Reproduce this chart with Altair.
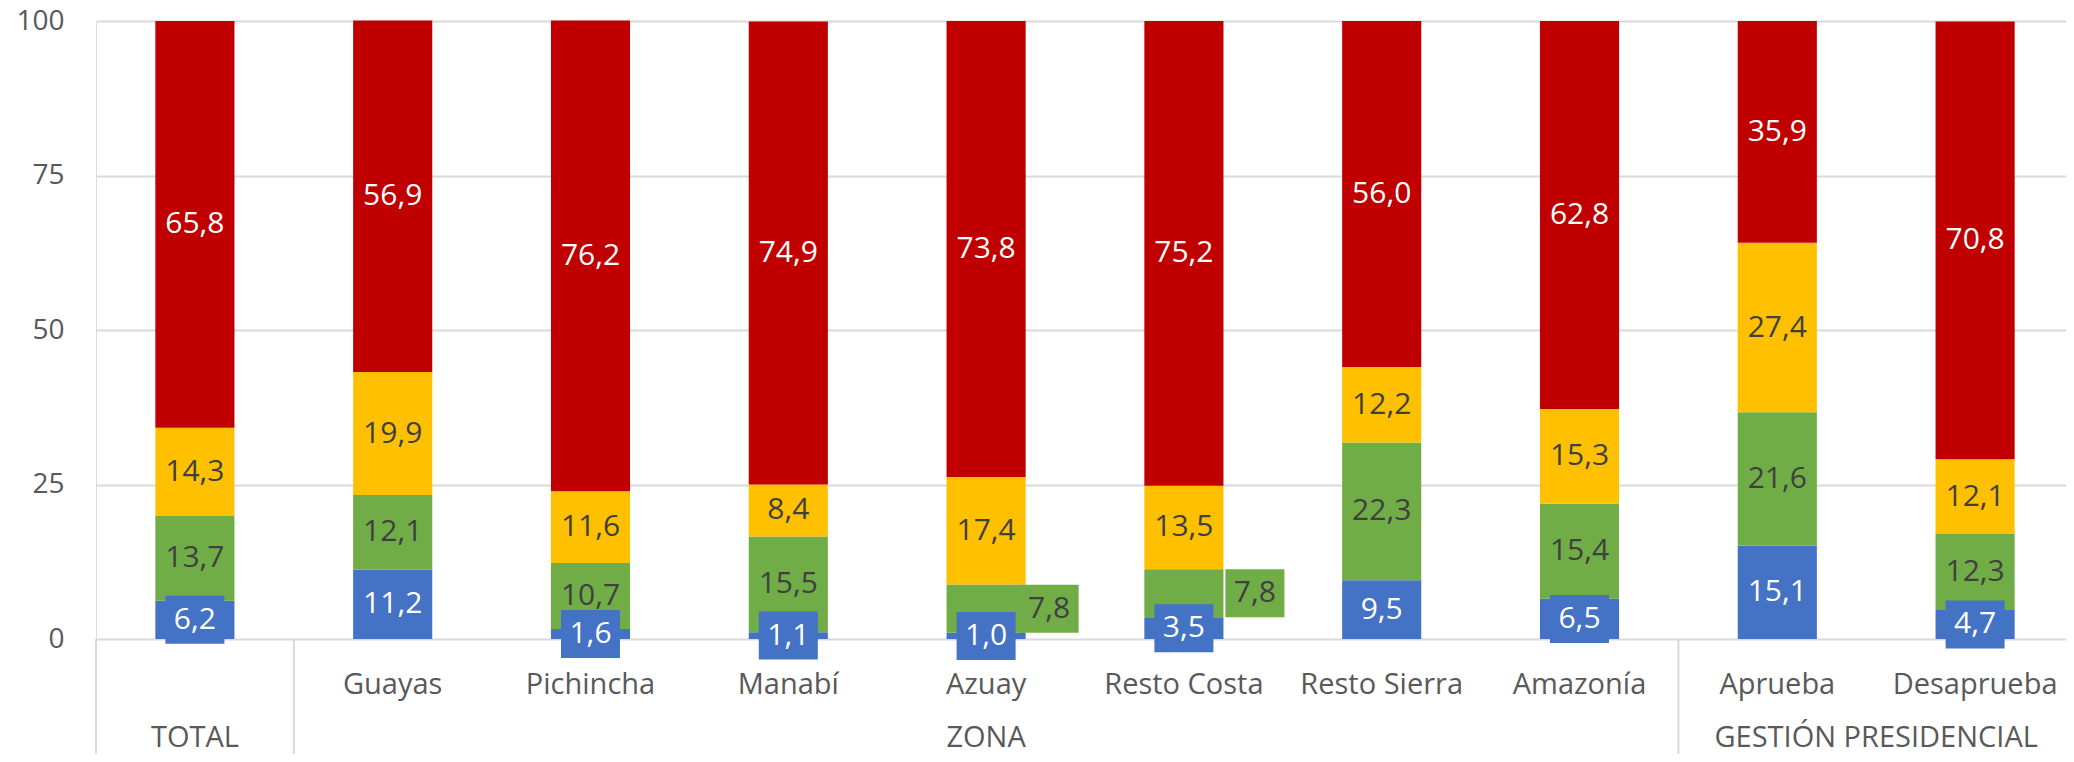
import altair as alt
import pandas as pd

# ---- data ----
categories = ["TOTAL", "Guayas", "Pichincha", "Manabí", "Azuay",
              "Resto Costa", "Resto Sierra", "Amazonía", "Aprueba", "Desaprueba"]
series = ["Muy buena", "Buena", "Regular", "Mala"]
muy_buena = [6.2, 11.2, 1.6, 1.1, 1.0, 3.5, 9.5, 6.5, 15.1, 4.7]
buena = [13.7, 12.1, 10.7, 15.5, 7.8, 7.8, 22.3, 15.4, 21.6, 12.3]
regular = [14.3, 19.9, 11.6, 8.4, 17.4, 13.5, 12.2, 15.3, 27.4, 12.1]
mala = [65.8, 56.9, 76.2, 74.9, 73.8, 75.2, 56.0, 62.8, 35.9, 70.8]
group_names = ["TOTAL", "ZONA", "GESTIÓN PRESIDENCIAL"]
group_first = ["TOTAL", "Guayas", "Aprueba"]
group_last = ["TOTAL", "Amazonía", "Desaprueba"]
y_ticks = [0, 25, 50, 75, 100]

# ---- styles ----
FONT = "Open Sans"
bar_colors = ["#4472C4", "#70AD47", "#FFC000", "#C00000"]
AXIS_TXT = "#595959"
DARK_TXT = "#404040"
GRID = "#D9D9D9"
W, H = 1970, 618
RANGE_W = 1978
TOP = 13
BOTTOM = 746 - TOP - H
BOX = "M-1,-0.8136H1V0.8136H-1Z"
BOX_SIZE = 59 ** 2
shifted = {"Azuay": 63, "Resto Costa": 71}  # label offsets (style)

# ---- table ----
rows = []
for i, c in enumerate(categories):
    vals = [muy_buena[i], buena[i], regular[i], mala[i]]
    start = 0.0
    for s, v in zip(series, vals):
        rows.append({"cat": c, "serie": s, "value": v, "start": start,
                     "end": start + v, "mid": start + v / 2,
                     "label": f"{v:.1f}".replace(".", ",")})
        start += v
df = pd.DataFrame(rows)

xscale = alt.Scale(domain=categories, range=[0, RANGE_W], paddingInner=0, paddingOuter=0)
yscale = alt.Scale(domain=[0, 100], nice=False)

x_axis = alt.Axis(title=None, labelAngle=0, labelFont=FONT, labelFontSize=29,
                  labelColor=AXIS_TXT, domain=False, ticks=False, grid=False,
                  labelPadding=54, labelBaseline="alphabetic", labelOverlap=False,
                  labelLimit=0, labelExpr="datum.label == 'TOTAL' ? '' : datum.label")
y_axis = alt.Axis(title=None, values=y_ticks, labelFont=FONT, labelFontSize=28,
                  labelColor=AXIS_TXT, domain=False, ticks=False, tickSize=0,
                  labelPadding=32, grid=True, gridColor=GRID, gridWidth=2)


def X(axis=None, **kw):
    return alt.X("cat:N", scale=xscale, sort=categories, axis=axis, **kw)


def Y(field):
    return alt.Y(field, scale=yscale, axis=y_axis)


base = alt.Chart(df)

bars = base.mark_bar(width={"band": 0.4}).encode(
    x=X(axis=x_axis),
    y=Y("start:Q"),
    y2="end:Q",
    color=alt.Color("serie:N", scale=alt.Scale(domain=series, range=bar_colors), legend=None),
)

layers = [bars]

shift_list = "[" + ",".join("'" + c + "'" for c in shifted) + "]"

# green label boxes moved to the right
for c, off in shifted.items():
    layers.append(
        base.transform_filter(f"datum.serie == 'Buena' && datum.cat == '{c}'")
        .mark_point(shape=BOX, size=BOX_SIZE, filled=True, opacity=1, strokeWidth=0,
                    color=bar_colors[1], xOffset=off)
        .encode(x=X(), y=Y("mid:Q"))
    )

# blue label boxes for small segments
layers.append(
    base.transform_filter("datum.serie == 'Muy buena' && datum.value < 8")
    .mark_point(shape=BOX, size=BOX_SIZE, filled=True, opacity=1, strokeWidth=0,
                color=bar_colors[0])
    .encode(x=X(), y=Y("mid:Q"))
)

txt_color = alt.condition(
    "datum.serie == 'Muy buena' || datum.serie == 'Mala'",
    alt.value("#FFFFFF"), alt.value(DARK_TXT))

layers.append(
    base.transform_filter(f"!(datum.serie == 'Buena' && indexof({shift_list}, datum.cat) >= 0)")
    .mark_text(font=FONT, fontSize=30, baseline="middle", align="center")
    .encode(x=X(), y=Y("mid:Q"), text="label:N", color=txt_color)
)
for c, off in shifted.items():
    layers.append(
        base.transform_filter(f"datum.serie == 'Buena' && datum.cat == '{c}'")
        .mark_text(font=FONT, fontSize=30, baseline="middle", align="center",
                   xOffset=off, color=DARK_TXT)
        .encode(x=X(), y=Y("mid:Q"), text="label:N")
    )

# group separators below the axis
sep_df = pd.DataFrame({"cat": group_first})
layers.append(
    alt.Chart(sep_df).mark_rule(color=GRID, strokeWidth=2).encode(
        x=X(bandPosition=0), y=alt.value(H), y2=alt.value(H + BOTTOM))
)

# group labels, centred under their span
grp = pd.DataFrame({
    "group": group_names,
    "pos": [(categories.index(a) + categories.index(b) + 1) / 2
            for a, b in zip(group_first, group_last)],
})
layers.append(
    alt.Chart(grp)
    .mark_text(font=FONT, fontSize=29, color=AXIS_TXT, baseline="alphabetic", align="center")
    .encode(x=alt.X("pos:Q", scale=alt.Scale(domain=[0, len(categories)], range=[0, RANGE_W]),
                    axis=None),
            y=alt.value(H + 108), text="group:N")
)

chart = alt.layer(*layers).resolve_scale(x="independent").properties(
    width=W, height=H,
    autosize=alt.AutoSizeParams(type="none"),
    padding={"left": 88, "top": TOP, "right": 0, "bottom": BOTTOM},
).configure_view(stroke=None).configure(background="white")

chart.save("out.html", embed_options={"renderer": "svg", "actions": False})
